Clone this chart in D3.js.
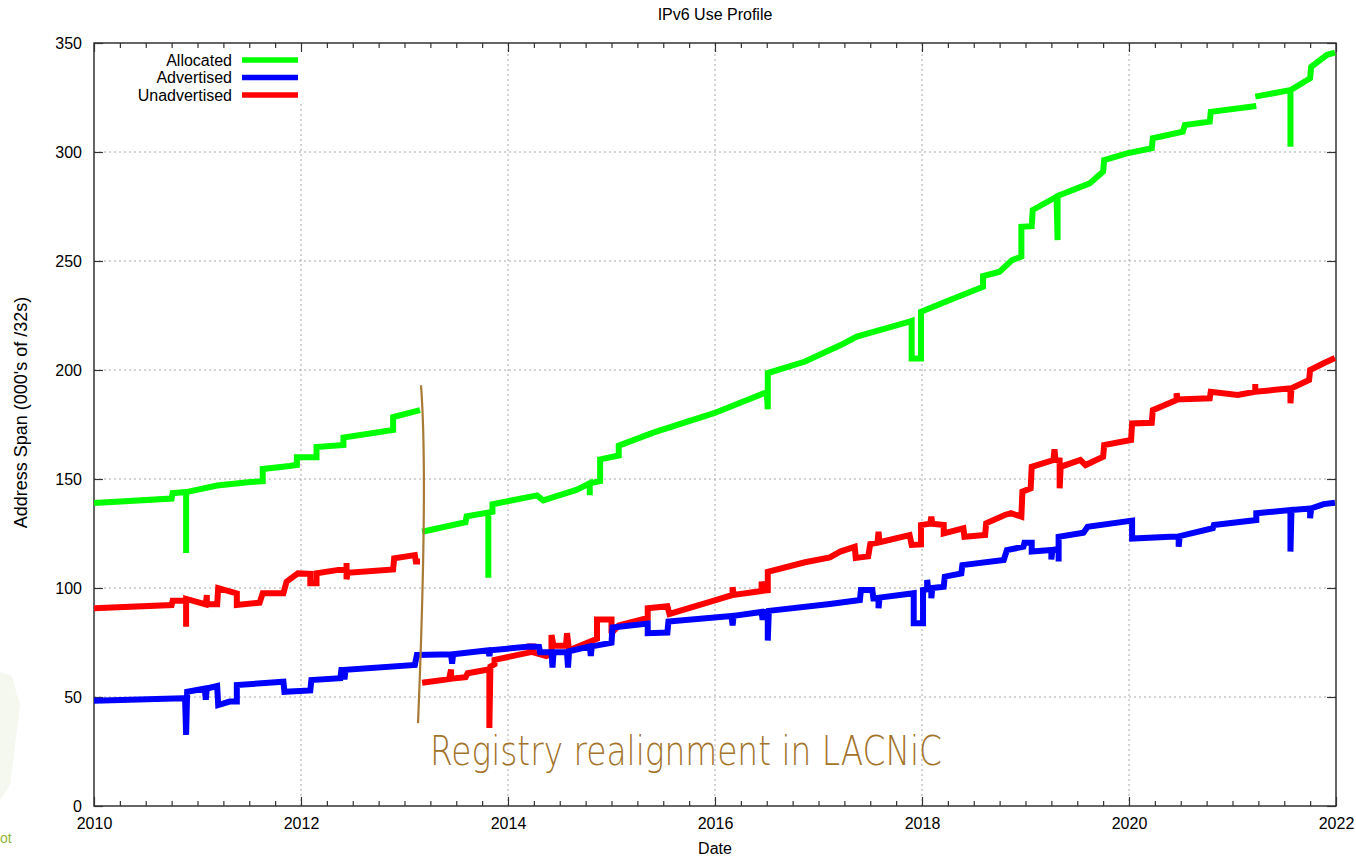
<!DOCTYPE html>
<html><head><meta charset="utf-8">
<script src="https://cdn.jsdelivr.net/npm/d3@7"></script>
<style>body{margin:0;background:#fff}svg{display:block}</style>
</head><body>
<svg id="chart" width="1356" height="859"></svg>
<script>
const chartTitle = "IPv6 Use Profile";
const xAxisLabel = "Date";
const yAxisLabel = "Address Span (000's of /32s)";
const xTickValues = [2010, 2012, 2014, 2016, 2018, 2020, 2022];
const yTickValues = [0, 50, 100, 150, 200, 250, 300, 350];
const seriesNames = ["Allocated", "Advertised", "Unadvertised"];
const seriesColors = ["#00ff00", "#0000ff", "#ff0000"];
const annotationText = "Registry realignment in LACNiC";

const allocatedDates = [2010.00,2010.75,2010.76,2010.89,2010.89,2010.89,2011.19,2011.51,2011.63,2011.63,2011.89,2011.96,2011.96,2012.15,2012.15,2012.41,2012.41,2012.89,2012.89,2013.15,
 2013.16,
 2013.17,2013.59,2013.60,2013.81,2013.81,2013.81,2013.85,2013.85,2014.28,2014.34,2014.66,2014.79,2014.79,2014.79,2014.89,2014.89,2015.07,2015.07,2015.41,2015.99,2016.50,2016.51,2016.51,2016.87,2017.23,2017.37,2017.59,2017.88,2017.90,2017.90,2017.99,2017.99,2018.27,2018.59,2018.59,2018.75,2018.87,2018.96,2018.96,2019.06,2019.07,2019.30,2019.31,2019.31,2019.62,2019.75,2019.76,2019.98,2020.22,2020.23,2020.52,2020.54,2020.78,2020.79,2021.23,
 2021.225,
 2021.22,2021.56,2021.56,2021.56,2021.75,2021.76,2021.91,2021.99];
const allocatedValues = [139,141,143.5,144,116,144,147,148.6,149,154.6,156,156.5,160,160,164.7,165.6,169,172.5,178.4,181.6,
 null,
 125.8,130.2,132.9,134.6,104.7,134.6,135,138.4,142.5,140.2,145,148,142.5,148,149,159,160.8,165.3,171.4,180.2,189.8,182,198.6,203.9,211.8,215.3,218.3,222.2,222.5,205.3,205.3,226.7,232.1,238.2,243.1,245.1,250.4,252,265.7,266,273.4,279.5,259.6,279.8,285.6,291,296.3,299.4,301.7,306.3,309.3,312.4,313.9,318.4,321.1,
 null,
 325.4,328.4,302.4,328.4,333.8,339.1,344.5,345.6];

const advertisedDates = [2010.00,2010.86,2010.88,2010.89,2010.90,2011.07,2011.08,2011.09,2011.19,2011.20,2011.31,2011.38,2011.38,2011.83,2011.84,2012.09,2012.10,2012.38,2012.39,2012.42,2012.42,2012.43,2013.10,2013.12,2013.45,2013.46,2013.47,2013.81,2013.82,2013.83,2014.21,2014.30,2014.31,2014.42,2014.43,2014.44,2014.57,2014.58,2014.59,2014.79,2014.80,2014.81,2015.00,2015.01,2015.35,2015.35,2015.54,2015.55,2016.16,2016.17,2016.18,2016.45,2016.46,2016.47,2016.51,2016.51,2016.52,2017.11,2017.40,2017.41,2017.52,2017.53,2017.58,2017.58,2017.59,2017.92,2017.92,2018.01,2018.01,2018.05,2018.05,2018.06,2018.09,2018.09,2018.10,2018.21,2018.22,2018.38,2018.39,2018.79,2018.82,2018.98,2018.99,2019.06,2019.06,2019.25,2019.25,2019.26,2019.32,2019.32,2019.32,2019.56,2019.60,2020.03,2020.03,2020.40,2020.48,2020.48,2020.49,2020.81,2020.82,2021.23,2021.23,2021.56,2021.56,2021.57,2021.75,2021.75,2021.76,2021.88,2021.99];
const advertisedValues = [48.3,49.4,49.4,32.6,52.4,53.9,48.8,53.9,55,46.3,47.9,47.9,55.5,57,52.4,53,57.8,58.6,62.4,62.4,58,62.5,64.7,69.3,69.6,65.3,69.6,71.4,68.8,71.4,73.2,73,70.5,70.5,63.5,70.5,70.5,63.5,71,73.2,68.8,73.2,74.9,81.9,83.7,79.3,79.6,84.6,87.2,82.8,87.2,89,85.4,89,89,75.9,89.5,92.7,94.5,99.1,99.1,95.3,95.5,90.7,95.6,97.6,83.8,83.8,99.1,99.5,103.7,99.5,99.8,95.3,100,100.6,105.2,106.7,110.5,112.8,117.4,118.9,120.8,120.8,116.7,117.4,113.1,117.4,118,112.1,123.5,125.4,128.1,130.9,122.7,123.5,123.5,118.9,123.8,127.4,128.9,131.2,134.3,135.8,116.7,135.8,136.5,132,136.5,138.5,139.1];

const unadvertisedDates = [2010.00,2010.75,2010.76,2010.89,2010.89,2010.89,2011.08,2011.09,2011.09,2011.19,2011.20,2011.31,2011.38,2011.38,2011.60,2011.63,2011.83,2011.86,2011.97,2012.09,2012.09,2012.15,2012.15,2012.36,2012.44,2012.44,2012.44,2012.45,2012.89,2012.90,2013.10,2013.11,2013.15,
 2013.16,
 2013.17,2013.43,2013.45,2013.45,2013.59,2013.61,2013.81,2013.82,2013.82,2013.83,2013.87,2013.87,2014.21,2014.21,2014.24,2014.24,2014.37,2014.42,2014.42,2014.44,2014.56,2014.57,2014.59,2014.86,2014.86,2015.00,2015.00,2015.07,2015.35,2015.35,2015.54,2015.56,2015.99,2016.17,2016.17,2016.18,2016.45,2016.45,2016.46,2016.51,2016.51,2016.87,2017.11,2017.21,2017.35,2017.36,2017.48,2017.50,2017.57,2017.58,2017.59,2017.88,2017.90,2017.99,2017.99,2018.08,2018.09,2018.10,2018.21,2018.21,2018.40,2018.41,2018.61,2018.62,2018.80,2018.86,2018.96,2018.97,2019.05,2019.06,2019.27,2019.28,2019.29,2019.33,2019.33,2019.34,2019.53,2019.58,2019.75,2019.76,2020.02,2020.03,2020.22,2020.23,2020.46,2020.46,2020.47,2020.78,2020.79,2021.05,2021.22,2021.22,2021.22,2021.56,2021.56,2021.57,2021.74,2021.75,2021.88,2021.99];
const unadvertisedValues = [90.7,92.2,94.2,94.2,82.2,95,92.5,96.8,92.5,92.5,99.9,98.5,97.5,92.2,93.3,97.6,97.6,102.9,106.7,106.5,102.2,102.2,106.7,108.3,108.3,111.5,104,107,108.5,113.6,115.1,112.1,112.1,
 null,
 56.5,58.2,62.6,58.4,59.1,60.9,62.6,62.6,35.8,64,65,67,70.5,73.2,73.2,70.5,68.8,70,78.4,73.5,73.5,79.3,71.4,76.7,85.5,85.5,79.3,82.8,86.3,90.7,91.6,88.1,94.2,96.8,100.4,96.8,98.6,103,98.8,99,107.4,111.8,114,116.7,118.9,113.8,114.5,120.2,120.8,125.8,121,124.3,119.8,120,128.9,129.5,132.7,129.5,128.9,125.1,127.4,123.5,124.3,129.7,133.5,134.3,132.7,144.2,145.7,155.6,158.7,163.6,158.7,158.5,145.7,155.6,158.7,156.4,160.2,165.6,167.9,175.5,175.8,181.6,186.2,189.3,186.5,187,190,188.5,190,193.6,190,191.6,184.7,191.6,195.4,200,203.1,205.5];

const W = 1356, H = 859;
const M = {left: 94, right: 1336, top: 43, bottom: 806};
const svg = d3.select("#chart");
const font = "'Liberation Sans', Arial, sans-serif";

const x = d3.scaleLinear().domain([2010, 2022]).range([M.left, M.right]);
const y = d3.scaleLinear().domain([0, 350]).range([M.bottom, M.top]);

// faint watermark remnants at far left
svg.append("path").attr("d", `M0 672 L12 676 L20 705 L10 785 L0 800 Z`).attr("fill", "#f5f8ef");
svg.append("text").attr("x", 0).attr("y", 843).attr("font-family", font).attr("font-size", 14)
  .attr("fill", "#8fb43c").text("ot");

// grid
const grid = svg.append("g").attr("stroke", "#a8a8a8").attr("stroke-width", 1).attr("stroke-dasharray", "2,3");
xTickValues.filter(v => v > 2010 && v < 2022).forEach(v => {
  grid.append("line").attr("x1", x(v)).attr("x2", x(v)).attr("y1", y(0)).attr("y2", y(350));
});
yTickValues.filter(v => v > 0 && v < 350).forEach(v => {
  grid.append("line").attr("x1", x(2010)).attr("x2", x(2022)).attr("y1", y(v)).attr("y2", y(v));
});

// legend background (covers grid)
svg.append("rect").attr("x", M.left + 1).attr("y", M.top + 1).attr("width", 212).attr("height", 60).attr("fill", "#fff");

// axes
const minorX = d3.range(2010, 2022.001, 0.25).filter(v => xTickValues.indexOf(v) < 0);
function styleAxis(g) {
  g.select(".domain").remove();
  g.selectAll(".tick line").attr("stroke", "#333").attr("stroke-width", 1.2);
  g.selectAll("text").attr("font-family", font).attr("font-size", 16).attr("fill", "#000");
}
svg.append("g").attr("transform", `translate(0,${M.bottom})`)
  .call(d3.axisBottom(x).tickValues(xTickValues).tickFormat(d3.format("d")).tickSize(-9).tickPadding(12))
  .call(styleAxis);
svg.append("g").attr("transform", `translate(0,${M.bottom})`)
  .call(d3.axisBottom(x).tickValues(minorX).tickFormat("").tickSize(-5)).call(styleAxis);
svg.append("g").attr("transform", `translate(0,${M.top})`)
  .call(d3.axisTop(x).tickValues(xTickValues).tickFormat("").tickSize(-9)).call(styleAxis);
svg.append("g").attr("transform", `translate(0,${M.top})`)
  .call(d3.axisTop(x).tickValues(minorX).tickFormat("").tickSize(-5)).call(styleAxis);
svg.append("g").attr("transform", `translate(${M.left},0)`)
  .call(d3.axisLeft(y).tickValues(yTickValues).tickSize(-9).tickPadding(12)).call(styleAxis);
svg.append("g").attr("transform", `translate(${M.right},0)`)
  .call(d3.axisRight(y).tickValues(yTickValues).tickFormat("").tickSize(-9)).call(styleAxis);

// frame
svg.append("rect").attr("x", M.left).attr("y", M.top).attr("width", M.right - M.left).attr("height", M.bottom - M.top)
  .attr("fill", "none").attr("stroke", "#333").attr("stroke-width", 1.5);

// series
const seriesData = [
  {dates: allocatedDates, values: allocatedValues},
  {dates: advertisedDates, values: advertisedValues},
  {dates: unadvertisedDates, values: unadvertisedValues}
];
const line = d3.line().defined(d => d[1] !== null).x(d => x(d[0])).y(d => y(d[1]));
const order = [2, 1, 0];
order.forEach(i => {
  const s = seriesData[i];
  const pts = s.dates.map((d, k) => [d, s.values[k]]);
  svg.append("path").datum(pts).attr("d", line).attr("fill", "none")
    .attr("stroke", seriesColors[i]).attr("stroke-width", 6)
    .attr("stroke-linejoin", "miter").attr("stroke-miterlimit", 2).attr("stroke-linecap", "butt");
});

// legend
seriesNames.forEach((n, i) => {
  const cy = 60 + i * 17.5;
  svg.append("text").attr("x", 232).attr("y", cy).attr("dy", "0.35em").attr("text-anchor", "end")
    .attr("font-family", font).attr("font-size", 16).text(n);
  svg.append("line").attr("x1", 242).attr("x2", 298).attr("y1", cy).attr("y2", cy)
    .attr("stroke", seriesColors[i]).attr("stroke-width", 5.5);
});

// titles
svg.append("text").attr("x", (M.left + M.right) / 2).attr("y", 20).attr("text-anchor", "middle")
  .attr("font-family", font).attr("font-size", 16).text(chartTitle);
svg.append("text").attr("x", (M.left + M.right) / 2).attr("y", 854).attr("text-anchor", "middle")
  .attr("font-family", font).attr("font-size", 16).text(xAxisLabel);
svg.append("text").attr("transform", `translate(27,${(M.top + M.bottom) / 2 - 12}) rotate(-90)`).attr("text-anchor", "middle")
  .attr("font-family", font).attr("font-size", 18).text(yAxisLabel);

// annotation
const ax = x(2013.15);
svg.append("path")
  .attr("d", `M${ax + 1},${y(193)} Q${ax + 8},${y(150)} ${ax - 2},${y(38)}`)
  .attr("fill", "none").attr("stroke", "#a87a35").attr("stroke-width", 2.2);
svg.append("text").attr("x", ax + 10).attr("y", y(19)).attr("font-family", "'DejaVu Sans', sans-serif")
  .attr("font-size", 40).attr("font-weight", 300).attr("fill", "#a3732a")
  .attr("textLength", 512).attr("lengthAdjust", "spacingAndGlyphs").text(annotationText);
</script>
</body></html>
